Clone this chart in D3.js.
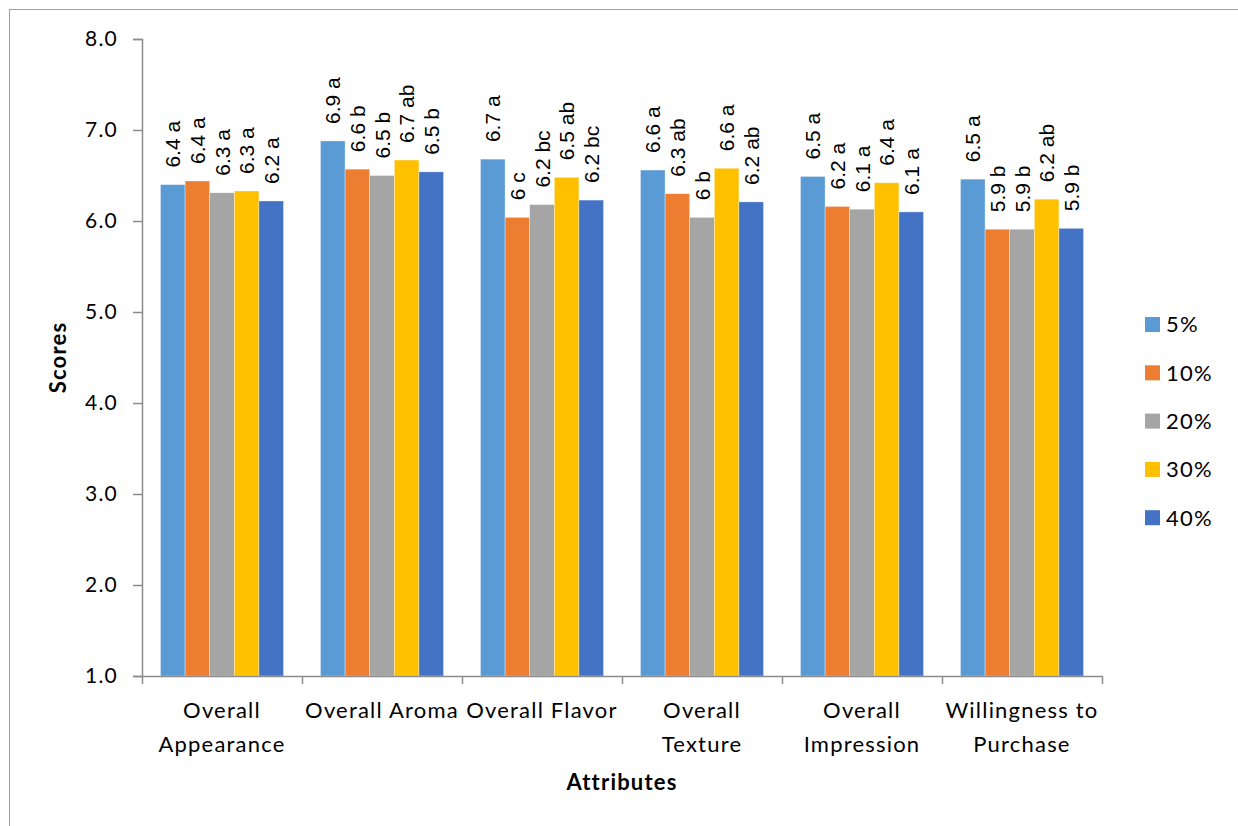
<!DOCTYPE html>
<html>
<head>
<meta charset="utf-8">
<script src="https://cdn.jsdelivr.net/npm/d3@7"></script>
<style>
  html, body { margin: 0; padding: 0; background: #fff; }
  svg { display: block; }
  .axis-text { font-family: Lato, "Open Sans", sans-serif; fill: #000; letter-spacing: 1.2px; }
  .value-label { font-family: "Liberation Sans", Arial, sans-serif; fill: #000; }
</style>
</head>
<body>
<svg id="chart" width="1238" height="826"></svg>
<script>
// Sensory attributes, one group of bars per attribute
const categories = [
  "Overall\nAppearance",
  "Overall Aroma",
  "Overall Flavor",
  "Overall\nTexture",
  "Overall\nImpression",
  "Willingness to\nPurchase"
];

// Substitution levels (one series each)
const series = ["5%", "10%", "20%", "30%", "40%"];

// Mean scores per level, in the attribute order above
const scores5  = [6.40, 6.88, 6.68, 6.56, 6.49, 6.46];
const scores10 = [6.44, 6.57, 6.04, 6.30, 6.16, 5.91];
const scores20 = [6.31, 6.50, 6.18, 6.04, 6.13, 5.91];
const scores30 = [6.33, 6.67, 6.48, 6.58, 6.42, 6.24];
const scores40 = [6.22, 6.54, 6.23, 6.21, 6.10, 5.92];

// Significance letters per level
const letters5  = ["a", "a", "a", "a", "a", "a"];
const letters10 = ["a", "b", "c", "ab", "a", "b"];
const letters20 = ["a", "b", "bc", "b", "a", "b"];
const letters30 = ["a", "ab", "ab", "a", "a", "ab"];
const letters40 = ["a", "b", "bc", "ab", "a", "b"];

const yTicks = [1, 2, 3, 4, 5, 6, 7, 8];

const colors = ["#5B9BD5", "#ED7D31", "#A5A5A5", "#FFC000", "#4472C4"];

const scoreRows = [scores5, scores10, scores20, scores30, scores40];
const letterRows = [letters5, letters10, letters20, letters30, letters40];

const data = categories.map((cat, i) => ({
  category: cat,
  bars: series.map((s, j) => ({
    series: s,
    value: scoreRows[j][i],
    letter: letterRows[j][i]
  }))
}));

const svg = d3.select("#chart");

// Chart frame
svg.append("rect")
  .attr("x", 9.5).attr("y", 9.5)
  .attr("width", 1240).attr("height", 830)
  .attr("fill", "none")
  .attr("stroke", "#a0a0a0")
  .attr("stroke-width", 1);

const plot = { left: 142, right: 1102, top: 39, bottom: 676 };

const x0 = d3.scaleBand()
  .domain(categories)
  .range([plot.left, plot.right])
  .padding(0);

const x1 = d3.scaleBand()
  .domain(series)
  .range([0, x0.bandwidth()])
  .paddingInner(0)
  .paddingOuter(0.75);

const y = d3.scaleLinear()
  .domain([1, 8])
  .range([plot.bottom, plot.top]);

const color = d3.scaleOrdinal().domain(series).range(colors);

// Bars
const groups = svg.append("g")
  .selectAll("g")
  .data(data)
  .join("g")
  .attr("transform", d => `translate(${x0(d.category)},0)`);

groups.selectAll("rect")
  .data(d => d.bars)
  .join("rect")
  .attr("x", d => x1(d.series))
  .attr("y", d => y(d.value))
  .attr("width", x1.bandwidth())
  .attr("height", d => y(1) - y(d.value))
  .attr("fill", d => color(d.series))
  .attr("stroke", "#ffffff")
  .attr("stroke-opacity", 0.6)
  .attr("stroke-width", 0.6);

// Value labels, rotated, above each bar
const fmtValue = v => String(+v.toFixed(1));
groups.selectAll("text")
  .data(d => d.bars)
  .join("text")
  .attr("class", "value-label")
  .attr("font-size", 21)
  .attr("text-anchor", "start")
  .attr("dy", "0.36em")
  .attr("transform", d => {
    const cx = x1(d.series) + x1.bandwidth() / 2;
    const cy = y(d.value) - 17;
    return `translate(${cx},${cy}) rotate(-90)`;
  })
  .text(d => `${fmtValue(d.value)} ${d.letter}`);

// Y axis
const yAxis = d3.axisLeft(y)
  .tickValues(yTicks)
  .tickFormat(d3.format(".1f"))
  .tickSize(9)
  .tickPadding(15);

const gy = svg.append("g")
  .attr("transform", `translate(${plot.left},0)`)
  .call(yAxis);
gy.select(".domain").attr("stroke", "#8c8c8c").attr("stroke-width", 1.5);
gy.selectAll(".tick line").attr("stroke", "#8c8c8c").attr("stroke-width", 1.5);
gy.selectAll(".tick text")
  .attr("class", "axis-text")
  .attr("font-size", 21)
  .attr("fill", "#000");

// X axis: boundary ticks between categories
const xEdges = d3.scaleLinear()
  .domain([0, categories.length])
  .range([plot.left, plot.right]);

const gx = svg.append("g")
  .attr("transform", `translate(0,${plot.bottom})`)
  .call(d3.axisBottom(xEdges)
    .tickValues(d3.range(0, categories.length + 1))
    .tickFormat("")
    .tickSize(8)
    .tickSizeOuter(0));
gx.select(".domain").attr("stroke", "#8c8c8c").attr("stroke-width", 1.5);
gx.selectAll(".tick line").attr("stroke", "#8c8c8c").attr("stroke-width", 1.5);

// Category labels, centred under each group
const catLabels = svg.append("g")
  .selectAll("text")
  .data(categories)
  .join("text")
  .attr("class", "axis-text")
  .attr("font-size", 22)
  .attr("text-anchor", "middle")
  .attr("x", d => x0(d) + x0.bandwidth() / 2)
  .attr("y", 718);

catLabels.selectAll("tspan")
  .data(d => d.split("\n"))
  .join("tspan")
  .attr("x", function () { return d3.select(this.parentNode).attr("x"); })
  .attr("dy", (d, i) => i === 0 ? 0 : 34)
  .text(d => d);

// Axis titles
svg.append("text")
  .attr("class", "axis-text")
  .attr("font-size", 22)
  .attr("font-weight", "bold")
  .attr("text-anchor", "middle")
  .attr("x", (plot.left + plot.right) / 2)
  .attr("y", 790)
  .text("Attributes");

svg.append("text")
  .attr("class", "axis-text")
  .attr("font-size", 22)
  .attr("font-weight", "bold")
  .attr("text-anchor", "middle")
  .attr("transform", `translate(66,${(plot.top + plot.bottom) / 2}) rotate(-90)`)
  .text("Scores");

// Legend
const legend = svg.append("g")
  .selectAll("g")
  .data(series)
  .join("g")
  .attr("transform", (d, i) => `translate(1145,${317 + i * 48.3})`);

legend.append("rect")
  .attr("width", 15)
  .attr("height", 15)
  .attr("fill", d => color(d));

legend.append("text")
  .attr("class", "axis-text")
  .attr("font-size", 22)
  .attr("x", 21)
  .attr("y", 7.5)
  .attr("dy", "0.36em")
  .text(d => d);
</script>
</body>
</html>
